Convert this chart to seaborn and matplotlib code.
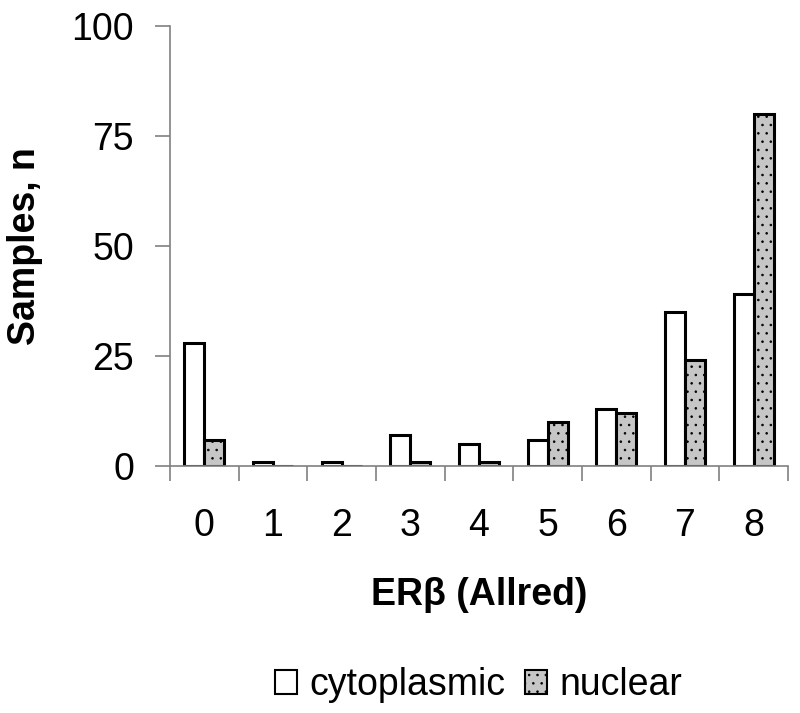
import numpy as np
import pandas as pd
import matplotlib
matplotlib.use("Agg")
import matplotlib.pyplot as plt
import seaborn as sns
from matplotlib.patches import Patch

# Data
scores = ["0", "1", "2", "3", "4", "5", "6", "7", "8"]
cytoplasmic = [28, 1, 1, 7, 5, 6, 13, 35, 39]
nuclear = [6, 0, 0, 1, 1, 10, 12, 24, 80]
series = ["cytoplasmic", "nuclear"]

df = pd.DataFrame({
    "score": scores * 2,
    "n": cytoplasmic + nuclear,
    "location": [series[0]] * len(scores) + [series[1]] * len(scores),
})

sns.set_style("white")
plt.rcParams["font.family"] = ["Liberation Sans", "DejaVu Sans"]
plt.rcParams["text.color"] = "black"
plt.rcParams["axes.labelcolor"] = "black"
plt.rcParams["xtick.labelcolor"] = "black"
plt.rcParams["ytick.labelcolor"] = "black"
plt.rcParams["hatch.linewidth"] = 0.6

fig = plt.figure(figsize=(8, 7.13), dpi=100)
ax = fig.add_axes([0.2125, 0.3464, 0.7725, 0.6176])

sns.barplot(data=df, x="score", y="n", hue="location", order=scores,
            hue_order=series, palette=["white", "#c6c6c6"], width=0.58,
            edgecolor="black", linewidth=2.2, ax=ax, legend=False)

# stipple on the nuclear bars
for bar in ax.containers[1]:
    bar.set_hatch("..")

ax.set_ylim(0, 100)
ax.set_xlim(-0.5, len(scores) - 0.5)
ax.set_yticks([0, 25, 50, 75, 100])

# x ticks sit between the categories
ax.set_xticks(np.arange(len(scores)), scores)
ax.set_xticks(np.arange(-0.5, len(scores)), minor=True)
ax.tick_params(axis="x", which="major", length=0, pad=30, labelsize=27,
               labelcolor="black")
ax.tick_params(axis="x", which="minor", length=11, width=1.2, color="#808080",
               direction="out", bottom=True)
ax.tick_params(axis="y", length=11, width=1.2, color="#808080",
               direction="out", left=True, labelsize=27, pad=15,
               labelcolor="black")

for side in ["top", "right"]:
    ax.spines[side].set_visible(False)
for side in ["left", "bottom"]:
    ax.spines[side].set_color("#808080")
    ax.spines[side].set_linewidth(1.2)

ax.set_xlabel("ERβ (Allred)", fontsize=27, fontweight="bold", labelpad=24,
              color="black")
ax.set_ylabel("Samples, n", fontsize=27, fontweight="bold", labelpad=20,
              color="black")

# legend below the chart
handles = [
    Patch(facecolor="white", edgecolor="black", linewidth=1.5, label=series[0]),
    Patch(facecolor="#c6c6c6", edgecolor="black", linewidth=1.5, hatch="..",
          label=series[1]),
]
leg = fig.legend(handles=handles, loc="center", bbox_to_anchor=(0.598, 0.039),
                 ncol=2, frameon=False, fontsize=27, handlelength=0.6,
                 handleheight=0.6, handletextpad=0.32, columnspacing=0.53,
                 borderpad=0)
for t in leg.get_texts():
    t.set_color("black")

fig.savefig("out.png", dpi=100)
